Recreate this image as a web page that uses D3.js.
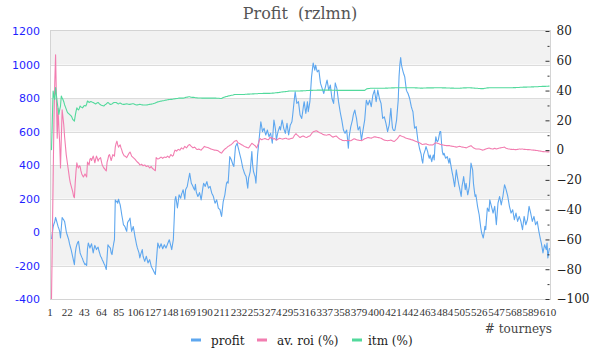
<!DOCTYPE html>
<html><head><meta charset="utf-8">
<script src="https://cdn.jsdelivr.net/npm/d3@7/dist/d3.min.js"></script>
<style>body{margin:0;background:#fff}svg{display:block}</style>
</head><body><svg id="c" width="600" height="360"></svg>
<script>
// ---------------- data ----------------
const tourneys = d3.range(1, 611); // categories: tourney number 1..610
const xTickLabels = ["1","22","43","64","85","106","127","148","169","190","211","232","253","274","295","316","337","358","379","400","421","442","463","484","505","526","547","568","589","610"];
const leftTicks = [-400,-200,0,200,400,600,800,1000,1200];
const rightTicks = [-100,-80,-60,-40,-20,0,20,40,60,80];
const rightMinorTicks = [-90,-70,-50,-30,-10,10,30,50,70];
const seriesNames = ["profit","av. roi (%)","itm (%)"];

const profit = [
-42,-10,30,48,62,87,70,52,33,20,
4,-36,25,87,78,72,63,35,4,-15,
-30,-46,-70,-88,-105,-128,-150,-172,-195,-130,
-95,-76,-62,-56,-90,-125,-138,-150,-160,-175,
-185,-195,-190,-200,-100,-66,-80,-96,-82,-70,
-98,-125,-100,-80,-92,-105,-96,-90,-112,-128,
-145,-152,-165,-175,-186,-195,-210,-224,-150,-76,
-85,-90,-96,-125,-135,-100,-70,-46,192,180,
185,172,196,178,162,133,100,73,43,38,
30,15,4,55,65,72,83,40,4,18,
33,5,-26,-50,-76,-95,-110,-125,-155,-135,
-120,-105,-145,-160,-175,-160,-145,-165,-185,-175,
-165,-185,-205,-215,-224,-235,-245,-254,-190,-125,
-66,-80,-96,-84,-70,-85,-100,-88,-76,-86,
-96,-84,-70,-58,-46,-65,-85,-105,-75,-46,
70,192,212,178,143,182,222,212,202,225,
238,252,225,196,252,262,272,300,325,351,
320,291,282,272,260,250,285,240,225,212,
222,235,215,192,225,260,291,282,272,288,
301,280,262,268,272,252,232,222,212,190,
172,182,192,168,143,138,133,112,93,138,
182,202,222,258,291,300,291,370,450,440,
430,415,400,391,450,510,520,530,510,490,
470,450,430,405,381,366,351,340,331,295,
262,321,340,361,420,480,400,361,345,331,
291,375,460,510,560,610,658,630,599,610,
619,598,579,594,609,588,569,580,589,560,
530,600,668,640,609,549,575,599,614,629,
609,640,668,645,619,604,589,620,649,612,
579,610,639,648,658,700,748,795,837,800,
768,772,778,738,698,688,678,712,748,778,
742,708,742,778,718,748,778,850,926,968,
1009,988,966,996,975,956,962,966,925,887,
872,857,842,827,848,867,888,907,878,847,
862,877,835,797,782,768,830,890,872,857,
818,778,748,718,692,668,638,609,598,589,
600,609,555,500,569,600,629,648,668,698,
715,728,700,678,640,609,620,629,590,549,
580,609,640,668,728,787,772,758,772,787,
768,748,782,817,832,847,812,778,812,847,
822,797,782,768,722,678,683,688,668,649,
624,599,620,639,690,738,672,620,609,605,
609,640,668,728,787,926,1000,1042,996,975,
956,940,926,885,847,836,827,812,797,772,
748,732,718,668,619,624,629,588,549,525,
500,482,465,430,411,460,475,490,510,495,
480,455,440,460,440,420,445,460,430,520,
569,545,539,549,575,599,599,530,480,460,
470,455,440,445,450,430,411,440,410,381,
355,331,300,271,320,371,340,311,285,262,
238,212,272,300,331,290,252,291,255,222,
245,272,340,411,390,371,291,250,212,222,
188,153,128,103,62,24,-5,-20,-36,-6,
34,14,80,143,133,123,192,172,153,133,
113,133,153,98,43,108,172,192,212,188,
162,188,212,248,282,268,252,232,212,182,
153,133,113,123,133,103,73,93,113,88,
63,78,93,78,63,38,14,54,93,68,
43,58,73,113,153,133,113,88,63,78,
93,68,43,53,63,34,4,-21,-46,-66,
-95,-125,-100,-76,-90,-105,-66,-155,-120,-96
];

const avRoi = [
-100,-60,-20,20,45,64,35,8,28,15,
5,-12,8,27,22,17,9,3,-3,-7,
-11,-15,-19,-22,-24,-26,-28,-31,-32,-22,
-14,-8.5,-11,-12,-10.5,-11,-14,-16,-17,-18,
-17,-16,-17,-18,-8,-9,-10,-6,-5.5,-7,
-5.5,-4,-6,-8.5,-6,-4,-5.5,-7.4,-6,-5.5,
-5,-7.5,-10,-11,-12,-12.5,-13.5,-14,-8,-6,
-3.5,-3,-5,-7,-5,-3,-3.5,-4,2,4.5,
6,3.5,2,3,3.5,1.5,0,-2,-3,-4,
-4,-4.5,-5,-4,-3,-2,-1.3,-2.5,-4,-4.5,
-5,-5.5,-6,-6.7,-7.4,-8,-8.5,-9,-10,-9.8,
-9.5,-10,-10.5,-10.2,-10,-10.5,-11,-10.8,-10.5,-11.2,
-12,-11.5,-11,-12,-12.5,-13,-13.5,-13.8,-5,-5.5,
-6,-5.8,-5.5,-5,-4.7,-5,-5.5,-5,-4.7,-4.8,
-5,-4.5,-4,-4.5,-5,-4,-3,-3.5,-4,-3.5,
-1.5,0,-0.3,-0.7,0,0.5,0.2,0,0.8,1.5,
1,0.7,1.6,2.5,2,1.5,2.2,3,3.5,3.8,
3,2.5,2,1.5,1.8,2,1.5,0.8,0.4,0.5,
0.7,0.5,0.2,0,0.6,1.2,1.8,2.5,2.2,2,
1.9,1.8,1.6,1.3,1,0.8,0.6,0.4,0.2,0,
0,-0.1,-0.2,-0.3,-0.6,-1,-1.4,-1.8,-2,-1.2,
-0.5,0.2,0.7,1.1,1.5,2,2.5,2.8,3.2,3.5,
3.8,4.3,4.9,5.5,6,6.2,6.5,6,5,4.7,
4.4,4.1,3.8,3.5,3.2,2.8,2.5,2.2,2,1.8,
1.6,1.5,2.2,3,3.8,4.6,4.2,3.8,3.3,3,
2.2,1.5,3,4.5,6.2,7.8,7.4,7,7.2,7.5,
7.6,7.8,7.6,7.3,7.1,7,7.4,8.5,8.2,8.5,
8,7.4,7.6,7.8,7,6.7,7,7.4,7.7,8,
7.8,7.6,7.5,7.4,7.6,7.8,8,8,7.7,7.5,
7.4,7.4,7.6,7.8,8,8,8.8,9.8,10.5,11,
10.4,9.9,9.5,8.8,8.5,8.8,9.1,9.4,9.5,9.2,
8.8,8.6,8.5,8.8,9.1,9.4,9.5,10.2,11,11.7,
12.3,12.5,12.7,12.9,13,12.7,12.3,12,11.7,11.5,
11.2,10.9,10.5,10.4,10.2,10.1,10,10.1,10.3,10.4,
10.5,10.1,9.6,9.1,8.7,8.9,9.1,9.3,9.5,9.1,
8.6,8.1,7.6,7.3,7.1,6.8,6.5,6.4,6.3,6.4,
6.5,6.3,6.7,6.5,6.4,6.3,6.3,6.6,7,7.3,
7.6,7.4,7.2,7,6.8,6.7,6.6,6.5,6.4,6.3,
6.6,6.9,7.3,7.6,7.8,8,8.3,8.5,8.4,8.2,
8.1,8,8.3,8.5,8.8,9,8.9,8.7,8.6,8.5,
8.4,8.3,8.1,8,7.7,7.3,7,6.7,6.6,6.5,
6.4,6.3,6.4,6.5,6.6,6.7,6.5,6.2,6,5.8,
6.2,6.7,7.2,7.7,8.5,9.2,10,9.7,9.4,9.1,
9,8.8,8.5,8.2,8,7.8,7.7,7.5,7.4,7.2,
7,6.9,6.7,6.5,6.2,6,5.8,5.6,5.3,5.1,
4.9,4.6,4.3,4,3.8,3.9,4,4.1,4.2,4,
3.8,3.6,3.4,3.4,3.5,3.4,3.4,3.8,4.2,4.6,
4.9,4.8,4.6,4.4,4.2,4,3.8,3.6,3.5,3.4,
3.3,3.2,3.1,3,3,3.1,3,3,2.8,2.7,
2.6,2.5,2.4,2.3,2.2,2,2.1,2.3,2.4,2.5,
2.4,2.2,2.1,2,1.9,1.8,1.7,1.5,1.7,2,
2.3,2.5,2.8,3,2.5,2,1.6,1.3,1,0.7,
0.7,0.7,0.8,0.7,0.6,0.4,0.2,0,0.1,0.3,
0.5,0.7,0.9,1.1,1.3,1.4,1.2,1,0.9,0.7,
0.8,1,1.2,1,0.7,0.9,1.1,1.3,1.4,1.5,
1.6,1.7,1.8,1.9,2,1.6,1.3,1.1,0.9,0.8,
0.7,0.6,0.5,0.5,0.4,0.5,0.4,0.3,0.3,0.4,
0.5,0.6,0.7,0.7,0.6,0.7,0.7,0.6,0.5,0.5,
0.4,0.4,0.3,0.3,0.3,0.2,0.2,0.1,0.1,0,
0,-0.1,-0.2,-0.3,-0.3,-0.4,-0.5,-0.6,-0.7,-0.8,
-0.9,-1,-1,-1.1,-1.1,-1.1,-1.2,-1.2,-1.2,-1.3
];

const itm = [
0,20,39.7,36,34,42,37,32,28,24,
27,29.6,36.3,35,34,32.5,30.5,29,27.5,26,
25,24.5,24,23.5,23,22,20.6,20,19.5,23,
26,28.4,27.5,27,28,29.6,29,28.7,28.4,29.2,
30,29.8,29.6,31,33,32.5,32,32.3,32.6,32.5,
32.2,32,31.6,31.3,31,31.4,31.8,32,31.4,30.8,
30.5,30.2,30,29.8,29.6,30.2,30.7,31,31.5,32,
31.5,31,30.7,30.8,31,31.5,31.9,32,32,32,
31.6,31.2,31,31.5,31.6,31.3,31,30.8,30.7,30.7,
30.9,31,31.1,31,30.8,30.7,30.7,30.9,31,31.1,
31.1,30.9,30.7,30.5,30.3,30.4,30.5,30.6,30.7,30.6,
30.5,30.4,30.3,30.3,30.3,30.3,30.3,30.4,30.5,30.6,
30.7,30.8,30.9,31,31.1,31.3,31.5,31.7,32,32.2,
32.4,32.5,32.7,32.8,32.9,33,33.1,33.2,33.3,33.5,
33.6,33.7,33.8,33.9,34,34,34.1,34.1,34.2,34.3,
34.4,34.5,34.6,34.7,34.7,34.8,34.9,34.9,34.9,34.9,
34.9,34.9,35,35.2,35.4,35.5,35.6,35.7,35.8,35.8,
35.6,35.5,35.4,35.4,35.4,35.3,35.2,35.2,35.1,35,
35,35,35,35,34.9,34.9,34.9,34.9,34.9,34.9,
34.9,34.9,34.9,34.9,34.9,34.9,34.9,34.9,34.9,34.9,
34.9,34.9,34.8,34.8,34.8,34.8,34.7,34.7,34.7,35,
35.3,35.5,35.7,35.9,36,36.1,36.3,36.4,36.5,36.7,
36.8,36.9,37,37.2,37.4,37.4,37.4,37.4,37.4,37.4,
37.4,37.4,37.4,37.4,37.4,37.4,37.4,37.5,37.5,37.5,
37.6,37.6,37.6,37.7,37.7,37.7,37.8,37.8,37.8,37.9,
37.9,37.9,37.9,38,38,38,38,38,38,38.1,
38.1,38.1,38.1,38.1,38.1,38.1,38.1,38.1,38.2,38.2,
38.3,38.3,38.4,38.4,38.5,38.5,38.6,38.6,38.7,38.8,
38.9,39,39,39.1,39.2,39.2,39.3,39.4,39.4,39.5,
39.6,39.7,39.7,39.7,39.7,39.7,39.7,39.7,39.7,39.7,
39.7,39.7,39.7,39.7,39.7,39.8,39.8,39.8,39.9,39.9,
39.9,39.9,40,40,40,40,40.1,40.1,40.1,40.1,
40.2,40.2,40.2,40.2,40.2,40.3,40.3,40.3,40.3,40.3,
40.3,40.3,40.3,40.3,40.3,40.3,40.3,40.3,40.3,40.3,
40.3,40.3,40.3,40.2,40.2,40.2,40.2,40.2,40.2,40.1,
40.1,40.1,40.1,40.1,40.1,40.1,40.1,40.1,40.1,40.1,
40.1,40.1,40.1,40.1,40.1,40.1,40.1,40.1,40.1,40.1,
40.1,40.1,40.1,40.1,40.1,40.1,40.1,40.1,40.1,40.1,
40.1,40.1,40.1,40.1,40.5,41,41.2,41.3,41.4,41.4,
41.5,41.5,41.5,41.5,41.5,41.5,41.5,41.5,41.5,41.5,
41.5,41.5,41.5,41.5,41.5,41.5,41.5,41.5,41.6,41.6,
41.6,41.6,41.7,41.7,41.7,41.7,41.8,41.8,41.8,41.8,
41.9,41.9,41.9,41.9,41.9,41.9,41.9,41.9,41.9,41.9,
41.9,41.9,41.9,41.9,41.9,41.9,41.9,41.9,41.9,41.9,
41.9,41.9,41.9,41.9,41.9,41.8,41.8,41.8,41.7,41.7,
41.7,41.6,41.6,41.6,41.6,41.7,41.7,41.7,41.7,41.8,
41.8,41.8,41.8,41.8,41.8,41.8,41.8,41.8,41.9,41.9,
41.9,41.9,41.9,41.9,41.9,41.9,41.9,41.9,41.8,41.8,
41.8,41.8,41.8,41.7,41.7,41.7,41.7,41.7,41.6,41.6,
41.6,41.6,41.6,41.5,41.5,41.5,41.5,41.5,41.5,41.5,
41.6,41.6,41.7,41.7,41.8,41.8,41.8,41.8,41.9,41.9,
41.9,41.9,41.9,41.8,41.8,41.7,41.7,41.6,41.6,41.5,
41.5,41.5,41.4,41.4,41.4,41.3,41.3,41.3,41.3,41.4,
41.5,41.6,41.7,41.8,41.8,41.9,41.9,41.9,41.9,41.9,
41.9,41.9,41.9,41.9,41.9,41.9,41.9,41.9,41.9,41.9,
41.9,41.9,41.9,41.9,41.9,41.9,41.9,41.9,41.9,41.9,
41.9,41.9,41.9,41.9,41.9,42,42,42,42,42.1,
42.1,42.1,42.1,42.2,42.2,42.2,42.2,42.3,42.3,42.3,
42.3,42.3,42.4,42.4,42.4,42.4,42.4,42.5,42.5,42.5,
42.5,42.6,42.6,42.6,42.6,42.6,42.7,42.7,42.7,42.7,
42.8,42.8,42.8,42.8,42.8,42.9,42.9,42.9,43,43
];

// ---------------- drawing ----------------
const svg = d3.select('#c');
const L = 51, R = 550, T = 31, B = 299;
const serif = '"DejaVu Serif", "Liberation Serif", serif';
const narrowSerif = '"Liberation Serif", "DejaVu Serif", serif';
const colors = ['#5ea7ef', '#f27db0', '#52d99c'];

const x = d3.scalePoint().domain(tourneys).range([L + 0.5, R - 0.5]);
const yL = d3.scaleLinear().domain([-400, 1200]).range([B, T]);
const yR = d3.scaleLinear().domain([-100, 80]).range([B, T]);

// alternating bands
svg.append('g').selectAll('rect').data(leftTicks.slice(0, -1)).join('rect')
  .attr('x', L).attr('width', R - L)
  .attr('y', d => yL(d + 200)).attr('height', d => yL(d) - yL(d + 200))
  .attr('fill', d => ((d + 200) % 400 === 0) ? '#f2f2f2' : '#ffffff');

// gridlines
svg.append('g').selectAll('line').data(leftTicks.slice(1, -1)).join('line')
  .attr('x1', L).attr('x2', R)
  .attr('y1', d => Math.round(yL(d)) + 0.5).attr('y2', d => Math.round(yL(d)) + 0.5)
  .attr('stroke', '#dcdcdc').attr('stroke-width', 1);

// border
svg.append('rect').attr('x', L - 0.5).attr('y', T - 0.5)
  .attr('width', R - L + 1).attr('height', B - T + 1)
  .attr('fill', 'none').attr('stroke', '#d4d4d4');

// series
const line = (yScale) => d3.line().x((d, i) => x(tourneys[i])).y(d => yScale(d));
const series = [
  {vals: profit, y: yL, c: colors[0]},
  {vals: avRoi, y: yR, c: colors[1]},
  {vals: itm, y: yR, c: colors[2]}
];
svg.append('g').selectAll('path').data(series).join('path')
  .attr('d', s => line(s.y)(s.vals))
  .attr('fill', 'none').attr('stroke', s => s.c)
  .attr('stroke-width', 1.1).attr('stroke-linejoin', 'round');

// left axis
const gL = svg.append('g').attr('transform', `translate(${L},0)`)
  .call(d3.axisLeft(yL).tickValues(leftTicks).tickSize(0).tickPadding(11).tickFormat(d => String(d)));
gL.select('.domain').remove();
gL.selectAll('text').attr('fill', '#1f1fff')
  .style('font-family', '"DejaVu Sans", Verdana, sans-serif').style('font-size', '11px');

// right axis (ticks drawn inward)
const gR = svg.append('g').attr('transform', `translate(${R - 0.5},0)`)
  .call(d3.axisRight(yR).tickValues(rightTicks).tickSizeInner(-4).tickSizeOuter(0).tickPadding(7));
gR.select('.domain').remove();
gR.selectAll('line').attr('stroke', '#333');
gR.selectAll('text').attr('fill', '#222')
  .style('font-family', serif).style('font-size', '12px');
const gRm = svg.append('g').attr('transform', `translate(${R - 0.5},0)`)
  .call(d3.axisRight(yR).tickValues(rightMinorTicks).tickSizeInner(-2).tickSizeOuter(0).tickFormat(''));
gRm.select('.domain').remove();
gRm.selectAll('line').attr('stroke', '#333');

// bottom category axis
const tickCats = xTickLabels.map(Number);
const gB = svg.append('g').attr('transform', `translate(-2,${B})`)
  .call(d3.axisBottom(x).tickValues(tickCats).tickSize(0).tickPadding(9)
    .tickFormat((d, i) => xTickLabels[i]));
gB.select('.domain').remove();
gB.selectAll('text').attr('fill', '#333')
  .style('font-family', narrowSerif).style('font-size', '11px');

// axis title
svg.append('text').attr('x', R + 2).attr('y', 333).attr('text-anchor', 'end')
  .attr('fill', '#444').style('font-family', serif).style('font-size', '12px')
  .text('# tourneys');

// title
svg.append('text').attr('x', 300).attr('y', 19).attr('text-anchor', 'middle')
  .attr('fill', '#555').style('font-family', serif).style('font-size', '16px')
  .style('white-space', 'pre').text('Profit  (rzlmn)');

// legend
const legX = [191, 257, 352];
const lg = svg.append('g').selectAll('g').data(seriesNames).join('g')
  .attr('transform', (d, i) => `translate(${legX[i]},340)`);
lg.append('rect').attr('x', 0).attr('y', -1.5).attr('width', 10).attr('height', 3)
  .attr('fill', (d, i) => colors[i]);
lg.append('text').attr('x', (d, i) => [20, 20, 16][i]).attr('y', 4.5)
  .attr('fill', '#222').style('font-family', serif).style('font-size', '12px')
  .text(d => d);
</script></body></html>
